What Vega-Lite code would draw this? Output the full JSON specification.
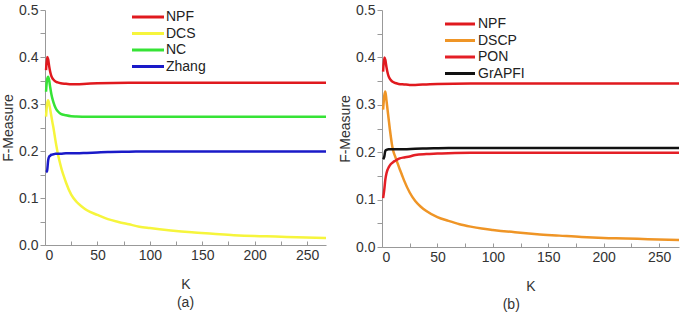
{
  "$schema": "https://vega.github.io/schema/vega-lite/v6.json",
  "padding": {"left": 1, "top": 3, "right": 2, "bottom": 2},
  "background": "white",
  "config": {
    "font": "Liberation Sans",
    "view": {"stroke": null},
    "axis": {"grid": false, "domainColor": "#999999", "tickColor": "#999999", "labelColor": "#333333", "titleColor": "#333333", "labelFontSize": 14, "titleFontSize": 14, "titleFontWeight": "normal", "labelOverlap": false},
    "legend": {"labelFontSize": 14, "labelColor": "#222222", "rowPadding": 2.5, "padding": 0, "symbolSize": 100, "symbolStrokeWidth": 3},
    "title": {"fontSize": 14, "fontWeight": "normal", "color": "#333333"}
  },
  "datasets": {
    "a": [
      {"s":"NPF","k":1,"f":0.372},{"s":"NPF","k":2,"f":0.4},{"s":"NPF","k":3,"f":0.395},{"s":"NPF","k":4,"f":0.38},{"s":"NPF","k":5,"f":0.368},{"s":"NPF","k":6,"f":0.36},{"s":"NPF","k":7,"f":0.355},{"s":"NPF","k":8,"f":0.352},{"s":"NPF","k":10,"f":0.348},{"s":"NPF","k":12,"f":0.346},{"s":"NPF","k":15,"f":0.344},{"s":"NPF","k":20,"f":0.343},{"s":"NPF","k":25,"f":0.342},{"s":"NPF","k":30,"f":0.342},{"s":"NPF","k":40,"f":0.343},{"s":"NPF","k":50,"f":0.344},{"s":"NPF","k":80,"f":0.345},{"s":"NPF","k":150,"f":0.345},{"s":"NPF","k":268,"f":0.345},
      {"s":"DCS","k":1,"f":0.273},{"s":"DCS","k":2,"f":0.3},{"s":"DCS","k":3,"f":0.308},{"s":"DCS","k":4,"f":0.3},{"s":"DCS","k":5,"f":0.288},{"s":"DCS","k":6,"f":0.275},{"s":"DCS","k":7,"f":0.262},{"s":"DCS","k":8,"f":0.25},{"s":"DCS","k":10,"f":0.222},{"s":"DCS","k":12,"f":0.197},{"s":"DCS","k":14,"f":0.177},{"s":"DCS","k":16,"f":0.16},{"s":"DCS","k":18,"f":0.146},{"s":"DCS","k":20,"f":0.133},{"s":"DCS","k":25,"f":0.107},{"s":"DCS","k":30,"f":0.092},{"s":"DCS","k":35,"f":0.082},{"s":"DCS","k":40,"f":0.074},{"s":"DCS","k":50,"f":0.064},{"s":"DCS","k":60,"f":0.055},{"s":"DCS","k":70,"f":0.049},{"s":"DCS","k":80,"f":0.044},{"s":"DCS","k":90,"f":0.039},{"s":"DCS","k":100,"f":0.036},{"s":"DCS","k":120,"f":0.031},{"s":"DCS","k":140,"f":0.027},{"s":"DCS","k":160,"f":0.024},{"s":"DCS","k":180,"f":0.021},{"s":"DCS","k":200,"f":0.019},{"s":"DCS","k":220,"f":0.018},{"s":"DCS","k":240,"f":0.0165},{"s":"DCS","k":268,"f":0.015},
      {"s":"NC","k":1,"f":0.326},{"s":"NC","k":2,"f":0.352},{"s":"NC","k":3,"f":0.358},{"s":"NC","k":4,"f":0.35},{"s":"NC","k":5,"f":0.335},{"s":"NC","k":6,"f":0.322},{"s":"NC","k":7,"f":0.312},{"s":"NC","k":8,"f":0.304},{"s":"NC","k":10,"f":0.292},{"s":"NC","k":12,"f":0.285},{"s":"NC","k":15,"f":0.279},{"s":"NC","k":20,"f":0.276},{"s":"NC","k":25,"f":0.274},{"s":"NC","k":30,"f":0.2735},{"s":"NC","k":40,"f":0.273},{"s":"NC","k":100,"f":0.273},{"s":"NC","k":268,"f":0.273},
      {"s":"Zhang","k":1,"f":0.155},{"s":"Zhang","k":2,"f":0.158},{"s":"Zhang","k":3,"f":0.18},{"s":"Zhang","k":4,"f":0.188},{"s":"Zhang","k":5,"f":0.19},{"s":"Zhang","k":6,"f":0.192},{"s":"Zhang","k":8,"f":0.193},{"s":"Zhang","k":10,"f":0.194},{"s":"Zhang","k":15,"f":0.194},{"s":"Zhang","k":20,"f":0.195},{"s":"Zhang","k":30,"f":0.195},{"s":"Zhang","k":40,"f":0.196},{"s":"Zhang","k":50,"f":0.197},{"s":"Zhang","k":60,"f":0.198},{"s":"Zhang","k":80,"f":0.1985},{"s":"Zhang","k":100,"f":0.199},{"s":"Zhang","k":268,"f":0.199}
    ],
    "b": [
      {"s":"NPF","k":1,"f":0.37},{"s":"NPF","k":2,"f":0.4},{"s":"NPF","k":3,"f":0.395},{"s":"NPF","k":4,"f":0.38},{"s":"NPF","k":5,"f":0.368},{"s":"NPF","k":6,"f":0.36},{"s":"NPF","k":7,"f":0.355},{"s":"NPF","k":8,"f":0.352},{"s":"NPF","k":10,"f":0.348},{"s":"NPF","k":12,"f":0.346},{"s":"NPF","k":15,"f":0.344},{"s":"NPF","k":20,"f":0.343},{"s":"NPF","k":25,"f":0.342},{"s":"NPF","k":30,"f":0.342},{"s":"NPF","k":40,"f":0.343},{"s":"NPF","k":50,"f":0.344},{"s":"NPF","k":80,"f":0.345},{"s":"NPF","k":150,"f":0.345},{"s":"NPF","k":268,"f":0.345},
      {"s":"DSCP","k":1,"f":0.29},{"s":"DSCP","k":2,"f":0.318},{"s":"DSCP","k":3,"f":0.328},{"s":"DSCP","k":4,"f":0.31},{"s":"DSCP","k":5,"f":0.29},{"s":"DSCP","k":6,"f":0.27},{"s":"DSCP","k":7,"f":0.25},{"s":"DSCP","k":8,"f":0.232},{"s":"DSCP","k":9,"f":0.216},{"s":"DSCP","k":10,"f":0.204},{"s":"DSCP","k":12,"f":0.19},{"s":"DSCP","k":14,"f":0.177},{"s":"DSCP","k":16,"f":0.164},{"s":"DSCP","k":18,"f":0.152},{"s":"DSCP","k":20,"f":0.14},{"s":"DSCP","k":25,"f":0.115},{"s":"DSCP","k":30,"f":0.097},{"s":"DSCP","k":35,"f":0.085},{"s":"DSCP","k":40,"f":0.076},{"s":"DSCP","k":50,"f":0.063},{"s":"DSCP","k":60,"f":0.055},{"s":"DSCP","k":70,"f":0.048},{"s":"DSCP","k":80,"f":0.043},{"s":"DSCP","k":90,"f":0.039},{"s":"DSCP","k":100,"f":0.036},{"s":"DSCP","k":120,"f":0.031},{"s":"DSCP","k":140,"f":0.027},{"s":"DSCP","k":160,"f":0.024},{"s":"DSCP","k":180,"f":0.021},{"s":"DSCP","k":200,"f":0.019},{"s":"DSCP","k":220,"f":0.018},{"s":"DSCP","k":240,"f":0.0165},{"s":"DSCP","k":268,"f":0.015},
      {"s":"PON","k":1,"f":0.103},{"s":"PON","k":2,"f":0.12},{"s":"PON","k":3,"f":0.142},{"s":"PON","k":4,"f":0.155},{"s":"PON","k":5,"f":0.163},{"s":"PON","k":6,"f":0.168},{"s":"PON","k":8,"f":0.175},{"s":"PON","k":10,"f":0.179},{"s":"PON","k":12,"f":0.182},{"s":"PON","k":14,"f":0.185},{"s":"PON","k":16,"f":0.187},{"s":"PON","k":20,"f":0.189},{"s":"PON","k":25,"f":0.191},{"s":"PON","k":30,"f":0.194},{"s":"PON","k":40,"f":0.196},{"s":"PON","k":50,"f":0.197},{"s":"PON","k":60,"f":0.198},{"s":"PON","k":80,"f":0.199},{"s":"PON","k":100,"f":0.199},{"s":"PON","k":268,"f":0.199},
      {"s":"GrAPFI","k":1,"f":0.185},{"s":"GrAPFI","k":2,"f":0.19},{"s":"GrAPFI","k":3,"f":0.203},{"s":"GrAPFI","k":4,"f":0.205},{"s":"GrAPFI","k":6,"f":0.206},{"s":"GrAPFI","k":10,"f":0.206},{"s":"GrAPFI","k":20,"f":0.206},{"s":"GrAPFI","k":30,"f":0.2075},{"s":"GrAPFI","k":40,"f":0.208},{"s":"GrAPFI","k":60,"f":0.209},{"s":"GrAPFI","k":100,"f":0.209},{"s":"GrAPFI","k":268,"f":0.209}
    ]
  },
  "spacing": 7,
  "resolve": {"scale": {"color": "independent"}, "legend": {"color": "independent"}},
  "hconcat": [
    {
      "data": {"name": "a"},
      "width": 281,
      "height": 235,
      "title": {"text": "(a)", "orient": "bottom", "anchor": "middle", "frame": "group", "offset": 5},
      "mark": {"type": "line", "strokeWidth": 2.5, "interpolate": "monotone"},
      "encoding": {
        "x": {"field": "k", "type": "quantitative", "scale": {"domain": [0, 268], "nice": false}, "axis": {"title": "K", "values": [0,25,50,75,100,125,150,175,200,225,250], "labelExpr": "datum.value % 50 == 0 ? datum.label : ''", "tickSize": -4, "labelPadding": 7, "titlePadding": 15}},
        "y": {"field": "f", "type": "quantitative", "scale": {"domain": [0, 0.5], "nice": false}, "axis": {"title": "F-Measure", "values": [0,0.05,0.1,0.15,0.2,0.25,0.3,0.35,0.4,0.45,0.5], "format": ".1f", "labelExpr": "round(datum.value*100) % 10 == 0 ? datum.label : ''", "tickSize": 5, "titlePadding": 3}},
        "color": {"field": "s", "type": "nominal", "scale": {"domain": ["NPF","DCS","NC","Zhang"], "range": ["#e0191e","#f6f53c","#36e336","#1a1ac8"]}, "legend": {"title": null, "orient": "none", "legendX": 96, "legendY": 0, "symbolType": "M-3.2,0H3.2", "labelOffset": 11}}
      }
    },
    {
      "data": {"name": "b"},
      "width": 297,
      "height": 237,
      "title": {"text": "(b)", "orient": "bottom", "anchor": "middle", "frame": "bounds", "offset": 5},
      "mark": {"type": "line", "strokeWidth": 2.5, "interpolate": "monotone"},
      "encoding": {
        "x": {"field": "k", "type": "quantitative", "scale": {"domain": [0, 268], "nice": false}, "axis": {"title": "K", "values": [0,25,50,75,100,125,150,175,200,225,250], "labelExpr": "datum.value % 50 == 0 ? datum.label : ''", "tickSize": -4, "labelPadding": 7, "titlePadding": 15}},
        "y": {"field": "f", "type": "quantitative", "scale": {"domain": [0, 0.5], "nice": false}, "axis": {"title": "F-Measure", "values": [0,0.05,0.1,0.15,0.2,0.25,0.3,0.35,0.4,0.45,0.5], "format": ".1f", "labelExpr": "round(datum.value*100) % 10 == 0 ? datum.label : ''", "tickSize": 5, "titlePadding": 3}},
        "color": {"field": "s", "type": "nominal", "scale": {"domain": ["NPF","DSCP","PON","GrAPFI"], "range": ["#e0191e","#ef9526","#e41f26","#111111"]}, "legend": {"title": null, "orient": "none", "legendX": 71, "legendY": 7, "symbolType": "M-3,0H3", "labelOffset": 11}}
      }
    }
  ]
}
